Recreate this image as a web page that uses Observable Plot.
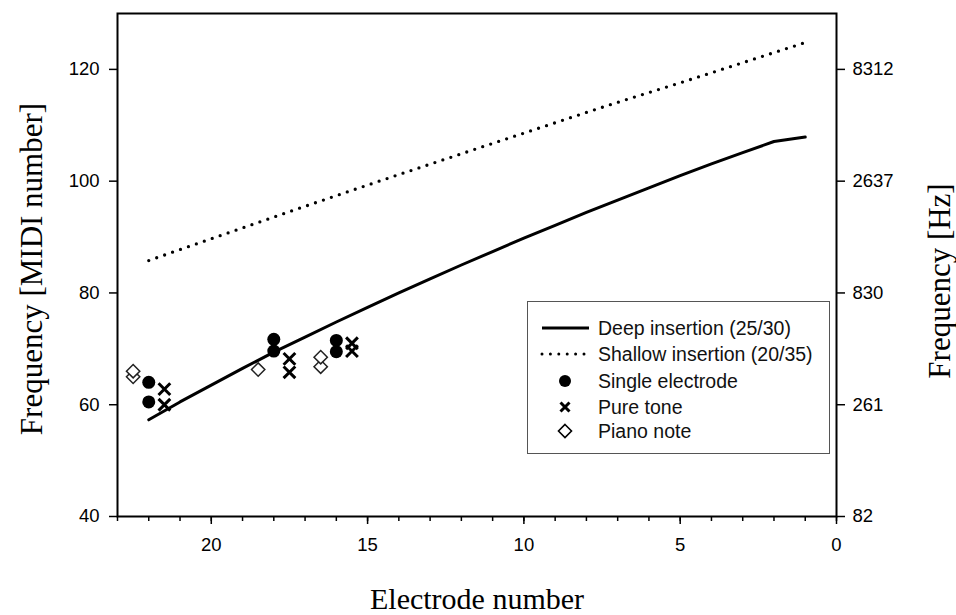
<!DOCTYPE html>
<html>
<head>
<meta charset="utf-8">
<script src="https://cdn.jsdelivr.net/npm/d3@7"></script>
<script src="https://cdn.jsdelivr.net/npm/@observablehq/plot@0.6"></script>
<style>
  html, body { margin: 0; padding: 0; background: #fff; }
  #wrap { position: relative; width: 956px; height: 615px; }
  #wrap svg g[aria-label$="tick label"] text { font-size: 18.5px !important; }
  #legend {
    position: absolute; left: 527px; top: 301px; width: 303px; height: 153px;
    border: 1.5px solid #555; background: #fff; box-sizing: border-box;
    font-family: "Liberation Sans", Arial, sans-serif; font-size: 19.5px; color: #111;
  }
  .row { position: absolute; left: 0; height: 24px; display: flex; align-items: center; }
  .row svg { width: 60px; height: 24px; flex: none; margin-left: 10px; }
  .row span { margin-left: 0px; white-space: nowrap; }
</style>
</head>
<body>
<div id="wrap"></div>
<script>
// Electrode positions and the frequency (MIDI number) each one maps to
const deepElectrode = [22, 21, 20, 19, 18, 17, 16, 15, 14, 13, 12, 11, 10, 9, 8, 7, 6, 5, 4, 3, 2, 1];
const deepMidi      = [57.3, 60.5, 63.5, 66.5, 69.4, 72.1, 74.8, 77.4, 80.0, 82.5, 85.0, 87.4, 89.8, 92.1, 94.4, 96.6, 98.8, 101.0, 103.1, 105.1, 107.1, 107.9];

const shallowElectrode = [22, 20, 17, 15, 12, 10, 7, 5, 3, 1];
const shallowMidi      = [85.8, 89.7, 95.5, 99.3, 104.9, 108.6, 114.1, 117.6, 121.2, 124.8];

// Pitch matches
const singleElectrode = [22, 22, 18, 18, 16, 16];
const singleMidi      = [64.0, 60.5, 71.7, 69.6, 71.5, 69.5];

const pureElectrode = [21.5, 21.5, 17.5, 17.5, 15.5, 15.5];
const pureMidi      = [62.8, 60.0, 68.2, 65.8, 71.0, 69.6];

const pianoElectrode = [22.5, 22.5, 18.5, 16.5, 16.5];
const pianoMidi      = [65.0, 66.0, 66.3, 66.8, 68.5];

// Axis ticks
const xMajorTicks = [0, 5, 10, 15, 20];
const xMinorTicks = d3.range(0, 24);
const yTicks = [40, 60, 80, 100, 120];
const hzLabels = ["82", "261", "830", "2637", "8312"];

const zip = (xs, ys) => xs.map((x, i) => ({x, y: ys[i]}));
const deep = zip(deepElectrode, deepMidi);
const shallow = zip(shallowElectrode, shallowMidi);
const single = zip(singleElectrode, singleMidi);
const pure = zip(pureElectrode, pureMidi);
const piano = zip(pianoElectrode, pianoMidi);

const sans = "Liberation Sans, Arial, sans-serif";
const serif = "Liberation Serif, Times New Roman, serif";

const chart = Plot.plot({
  width: 956,
  height: 615,
  marginLeft: 117,
  marginRight: 120,
  marginTop: 13,
  marginBottom: 99,
  style: {fontFamily: sans, fontSize: "18.5px", background: "#fff", color: "#000"},
  x: {domain: [23, 0], axis: null},
  y: {domain: [40, 130], axis: null},
  marks: [
    Plot.axisX({ticks: xMinorTicks, tickSize: 5, tickFormat: () => "", strokeWidth: 1.5, label: null}),
    Plot.axisX({ticks: xMajorTicks, tickSize: 8, tickPadding: 13, strokeWidth: 1.5, fontSize: 18.5, label: null}),
    Plot.axisY({anchor: "left", ticks: yTicks, tickSize: 8, tickPadding: 10, strokeWidth: 1.5, fontSize: 18.5, label: null}),
    Plot.axisY({anchor: "right", ticks: yTicks, tickSize: 8, tickPadding: 8, strokeWidth: 1.5, fontSize: 18.5, label: null,
      tickFormat: d => hzLabels[yTicks.indexOf(d)]}),
    Plot.frame({stroke: "#000", strokeWidth: 2}),
    Plot.line(shallow, {x: "x", y: "y", curve: "monotone-x", stroke: "#000", strokeWidth: 3.3,
      strokeDasharray: "0 8.4", strokeLinecap: "round"}),
    Plot.line(deep, {x: "x", y: "y", curve: "linear", stroke: "#000", strokeWidth: 3}),
    Plot.dot(single, {x: "x", y: "y", r: 6.5, fill: "#000", stroke: null}),
    Plot.dot(pure, {x: "x", y: "y", symbol: "times", r: 5.4, stroke: "#000", strokeWidth: 3}),
    Plot.dot(piano, {x: "x", y: "y", symbol: "diamond2", r: 6, fill: "#fff", stroke: "#222", strokeWidth: 1.5}),
    Plot.text(["Frequency [MIDI number]"], {frameAnchor: "left", textAnchor: "middle", lineAnchor: "middle", rotate: -90, dx: -85, dy: 4,
      fontFamily: serif, fontSize: 31, fill: "#000"}),
    Plot.text(["Frequency [Hz]"], {frameAnchor: "right", textAnchor: "middle", lineAnchor: "middle", rotate: -90, dx: 104, dy: 16,
      fontFamily: serif, fontSize: 31, fill: "#000"}),
    Plot.text(["Electrode number"], {frameAnchor: "bottom", lineAnchor: "middle", dy: 83, fontFamily: serif, fontSize: 30, fill: "#000"})
  ]
});

const wrap = document.getElementById("wrap");
wrap.appendChild(chart);

// Legend drawn inside the plot area
const legend = document.createElement("div");
legend.id = "legend";
const entries = [
  {label: "Deep insertion (25/30)", icon: '<line x1="4" y1="12" x2="51" y2="12" stroke="#000" stroke-width="3"/>'},
  {label: "Shallow insertion (20/35)", icon: '<line x1="4" y1="12" x2="51" y2="12" stroke="#000" stroke-width="3" stroke-dasharray="0 8.4" stroke-linecap="round"/>'},
  {label: "Single electrode", icon: '<circle cx="27" cy="12" r="6" fill="#000"/>'},
  {label: "Pure tone", icon: '<path d="M22.5,7.5L31.5,16.5M31.5,7.5L22.5,16.5" stroke="#000" stroke-width="3"/>'},
  {label: "Piano note", icon: '<path d="M27,5.5L33.5,12L27,18.5L20.5,12Z" fill="#fff" stroke="#000" stroke-width="1.6"/>'}
];
const rowTops = [14, 40, 67, 93, 117];
entries.forEach((e, i) => {
  const row = document.createElement("div");
  row.className = "row";
  row.style.top = rowTops[i] + "px";
  row.innerHTML = `<svg viewBox="0 0 60 24">${e.icon}</svg><span>${e.label}</span>`;
  legend.appendChild(row);
});
wrap.appendChild(legend);
</script>
</body>
</html>
